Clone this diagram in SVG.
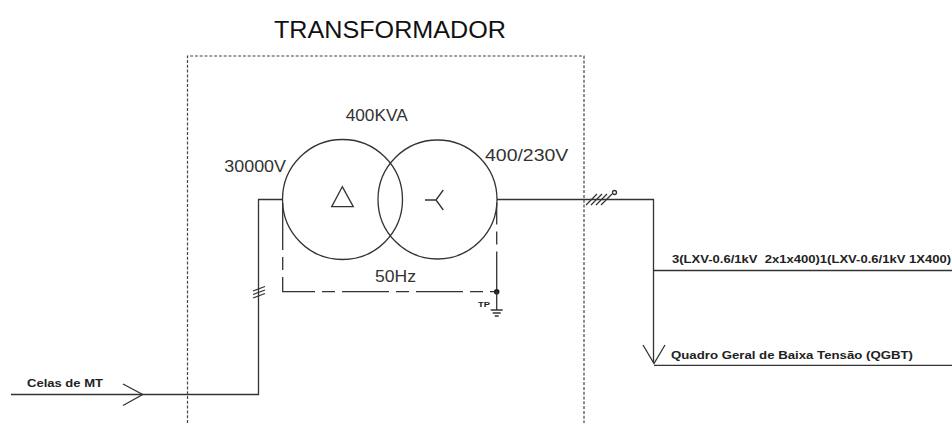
<svg xmlns="http://www.w3.org/2000/svg" width="952" height="423" viewBox="0 0 952 423">
<defs>
<style>
.w{fill:none;stroke:#333;stroke-width:1.3}
.box{fill:none;stroke:#444;stroke-width:1.2;stroke-dasharray:3 1.8}
.dd{fill:none;stroke:#333;stroke-width:1.3;stroke-dasharray:47 7 13 7}
.lbl{font-family:"Liberation Sans",Arial,sans-serif;font-size:16px;fill:#333}
.b{font-family:"Liberation Sans",Arial,sans-serif;font-weight:bold;font-size:11.5px;fill:#222}
.t{font-family:"Liberation Sans",Arial,sans-serif;font-size:24px;fill:#111}
</style>
</defs>
<rect width="952" height="423" fill="#fff"/>
<g id="title"><text class="t" x="274" y="37.5" textLength="232" lengthAdjust="spacingAndGlyphs">TRANSFORMADOR</text></g>
<g id="enclosure"><path class="box" d="M187.5,423 V56 H584 V423"/></g>
<g id="connectors">
<path class="w" d="M11,394.5 H258.5 V199.5 H283"/>
<path class="w" d="M123,384 L142.7,394.5 L123,405.5"/>
<path class="w" d="M253,291 L265,286.5 M253,294.5 L265,290 M253,298 L265,293.5"/>
<path class="w" d="M497,199.5 H653.5 V363"/>
<path class="w" d="M586,205 L597,194 M591,205 L602,194 M596,205 L607,194 M601,205 L612,194"/>
<circle class="w" cx="614.5" cy="192.5" r="2"/>
<path class="w" d="M653.5,270.5 H952"/>
<path class="w" d="M643,345 L654,363.5 L665,345"/>
<path class="w" d="M654,365.3 H952"/>
</g>
<g id="transformer">
<circle class="w" cx="342.5" cy="199.5" r="60"/>
<circle class="w" cx="437.5" cy="199.5" r="59.5"/>
<path class="w" d="M342.3,186.7 L331.7,206.7 L353.3,206.7 Z"/>
<path class="w" d="M425,200 H436 L443.3,190 M436,200 L443.3,210"/>
<text class="lbl" x="345.7" y="121" textLength="62" lengthAdjust="spacingAndGlyphs">400KVA</text>
<text class="lbl" x="224.3" y="171.7" textLength="61.7" lengthAdjust="spacingAndGlyphs">30000V</text>
<text class="lbl" x="485" y="160.7" textLength="83.3" lengthAdjust="spacingAndGlyphs">400/230V</text>
<text class="lbl" x="375" y="281.7" textLength="41" lengthAdjust="spacingAndGlyphs">50Hz</text>
<path class="dd" d="M282.7,203 V291.7 H496.7 V203"/>
</g>
<g id="ground">
<circle cx="496.7" cy="291.7" r="2.8" fill="#222"/>
<path class="w" d="M496.7,291.7 V310 M490.7,310 H502.7 M492.7,313 H500.7 M494.7,316 H498.7"/>
<text class="b" style="font-size:7.5px" x="478" y="306.7" textLength="12" lengthAdjust="spacingAndGlyphs">TP</text>
</g>
<g id="source"><text class="b" x="27" y="387" textLength="76" lengthAdjust="spacingAndGlyphs">Celas de MT</text></g>
<g id="cable"><text class="b" xml:space="preserve" style="white-space:pre" x="672" y="263" textLength="279" lengthAdjust="spacingAndGlyphs">3(LXV-0.6/1kV  2x1x400)1(LXV-0.6/1kV 1X400)</text></g>
<g id="qgbt"><text class="b" x="671" y="359" textLength="242" lengthAdjust="spacingAndGlyphs">Quadro Geral de Baixa Tensão (QGBT)</text></g>
</svg>
